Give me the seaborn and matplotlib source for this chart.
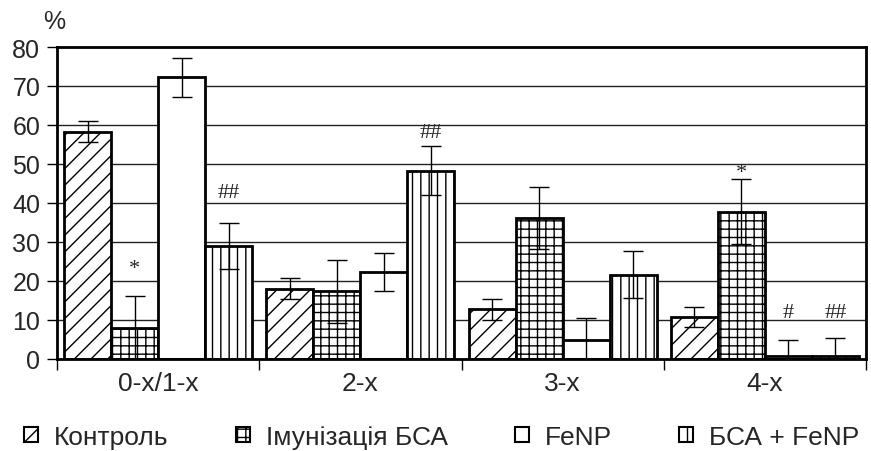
"""
Bar chart: share of animals by group (%), four treatment series with SEM bars.
"""

import matplotlib
matplotlib.use("Agg")
import matplotlib.pyplot as plt
from matplotlib.patches import Patch
import numpy as np
import pandas as pd
import seaborn as sns

groups = ["0-х/1-х", "2-х", "3-х", "4-х"]
series = ["Контроль", "Імунізація БСА", "FeNP", "БСА + FeNP"]

control = [58.3, 18.0, 12.8, 10.7]
control_err = [2.7, 2.7, 2.7, 2.6]
immun = [7.9, 17.4, 36.2, 37.8]
immun_err = [8.2, 8.1, 8.0, 8.3]
fenp = [72.2, 22.4, 4.9, 0.7]
fenp_err = [5.1, 4.9, 5.5, 4.2]
bsa_fenp = [29.0, 48.3, 21.6, 0.7]
bsa_fenp_err = [5.9, 6.2, 6.0, 4.8]

# significance marks: group index, series index, mark, y position
sig_groups = [0, 0, 1, 3, 3, 3]
sig_series = [1, 3, 3, 1, 2, 3]
sig_labels = ["*", "##", "##", "*", "#", "##"]
sig_y = [23.3, 42.8, 58.2, 47.9, 12.0, 12.0]

hatches = ["//", "++", "", "||"]

values = [control, immun, fenp, bsa_fenp]
errors = [control_err, immun_err, fenp_err, bsa_fenp_err]

rows = []
for s_name, vals in zip(series, values):
    for g_name, v in zip(groups, vals):
        rows.append({"group": g_name, "series": s_name, "value": v})
df = pd.DataFrame(rows)

sns.set_style("white")
plt.rcParams["font.family"] = ["Liberation Sans", "DejaVu Sans"]
plt.rcParams["hatch.linewidth"] = 1.0

fig = plt.figure(figsize=(8.71, 4.52), dpi=100)
ax = fig.add_axes([57 / 871, 92 / 452, 809 / 871, 312 / 452])

sns.barplot(
    data=df,
    x="group",
    y="value",
    hue="series",
    order=groups,
    hue_order=series,
    palette=["white"] * len(series),
    saturation=1,
    edgecolor="black",
    linewidth=2,
    width=0.93,
    errorbar=None,
    ax=ax,
)
if ax.get_legend() is not None:
    ax.get_legend().remove()

for cont, hatch, err in zip(ax.containers, hatches, errors):
    xs = []
    ys = []
    for bar in cont:
        bar.set_hatch(hatch)
        bar.set_zorder(2)
        xs.append(bar.get_x() + bar.get_width() / 2)
        ys.append(bar.get_height())
    ax.errorbar(xs, ys, yerr=err, fmt="none", ecolor="black",
                elinewidth=1, capsize=7, capthick=1, zorder=3)

for g, s, lab, y in zip(sig_groups, sig_series, sig_labels, sig_y):
    bar = ax.containers[s][g]
    ax.text(bar.get_x() + bar.get_width() / 2, y, lab, ha="center", va="center",
            fontsize=16, family=["Liberation Serif", "DejaVu Serif"], zorder=4)

ax.set_ylim(0, 80)
ax.set_xlim(-0.5, len(groups) - 0.5)
ax.set_yticks(np.arange(0, 81, 10))
ax.yaxis.grid(True, color="#222222", linewidth=1)
ax.set_axisbelow(True)
ax.set_xlabel("")
ax.set_ylabel("")

ax.set_xticks(np.arange(-0.5, len(groups), 1.0), minor=True)
ax.tick_params(axis="x", which="major", length=0, pad=9, labelsize=19)
ax.tick_params(axis="x", which="minor", length=8, width=1, color="black", bottom=True)
ax.tick_params(axis="y", which="major", length=7, width=1, color="black", pad=5,
               labelsize=18, left=True)

for sp in ax.spines.values():
    sp.set_visible(True)
    sp.set_color("black")
    sp.set_linewidth(2)

fig.text(54 / 871, 1 - 22 / 452, "%", ha="center", va="center", fontsize=18)

handles = [Patch(facecolor="white", edgecolor="black", hatch=h, linewidth=1.5)
           for h in hatches]
fig.legend(handles, series, loc="center", bbox_to_anchor=(0.507, 1 - 438 / 452),
           ncol=4, frameon=False, fontsize=19, handlelength=0.53, handleheight=0.53,
           handletextpad=0.6, columnspacing=2.55)

fig.savefig("out.png", dpi=100)
plt.close(fig)
